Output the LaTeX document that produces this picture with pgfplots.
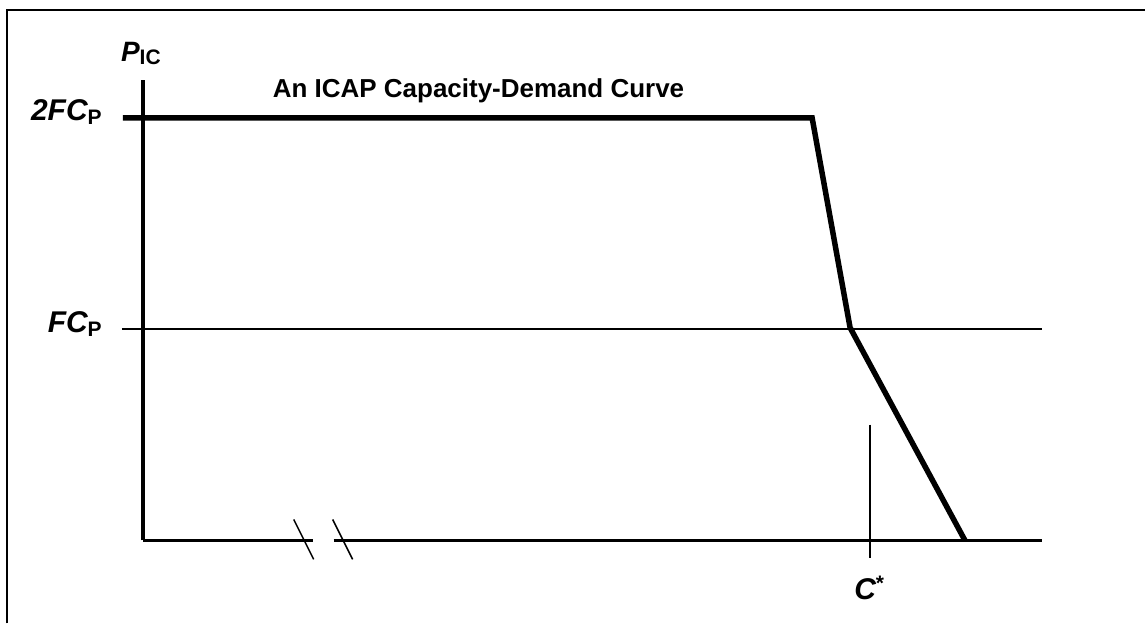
\documentclass[border=0pt]{standalone}
\usepackage{fontspec}
\setmainfont{Liberation Sans}
\usepackage{pgfplots}
\pgfplotsset{compat=1.18}
\newcommand{\lab}[1]{\fontsize{30}{34}\selectfont\bfseries #1}
\newcommand{\sub}[1]{\raisebox{-0.12em}{\fontsize{21}{21}\selectfont\bfseries\upshape #1}}
\begin{document}
\begin{tikzpicture}
\begin{axis}[
    width=1146pt, height=624pt, scale only axis,
    xmin=0, xmax=1146, ymin=0, ymax=624,
    hide axis, clip=false,
]
% page extent
\path (axis cs:0,0) rectangle (axis cs:1146,624);
% frame (left and top edges only)
\addplot[black, line width=2.5pt, no marks] coordinates {(7,0) (7,614) (1146,614)};
% y axis
\addplot[black, line width=3.5pt, no marks] coordinates {(143,83) (143,544)};
% x axis with a break
\addplot[black, line width=3.5pt, no marks] coordinates {(143,83) (313,83)};
\addplot[black, line width=3.5pt, no marks] coordinates {(334,83) (1043,83)};
\addplot[black, line width=1.5pt, no marks] coordinates {(294,104) (314,64)};
\addplot[black, line width=1.5pt, no marks] coordinates {(333,104) (353,64)};
% FC_P level
\addplot[black, line width=2pt, no marks] coordinates {(122,295) (1043,295)};
% C* marker
\addplot[black, line width=2pt, no marks] coordinates {(871,199) (871,65)};
% demand curve
\addplot[black, line width=5.5pt, no marks, line join=miter] coordinates {
    (123,506) (813,506) (851,296) (966,83)
};
% labels
\node[anchor=base east, inner sep=0pt] at (axis cs:102,503)
    {\lab{\itshape 2FC\sub{P}}};
\node[anchor=base east, inner sep=0pt] at (axis cs:102,291)
    {\lab{\itshape FC\sub{P}}};
\node[anchor=base west, inner sep=0pt] at (axis cs:121,562)
    {\fontsize{28}{32}\selectfont\bfseries\itshape P\raisebox{-0.08em}{\fontsize{21}{21}\selectfont\upshape IC}};
\node[anchor=base west, inner sep=0pt] at (axis cs:273,526)
    {\fontsize{26}{30}\selectfont\bfseries An ICAP Capacity-Demand Curve};
\node[anchor=base west, inner sep=0pt] at (axis cs:855,24)
    {\lab{\itshape C\raisebox{0.3em}{\fontsize{21}{21}\selectfont\upshape *}}};
\end{axis}
\end{tikzpicture}
\end{document}
